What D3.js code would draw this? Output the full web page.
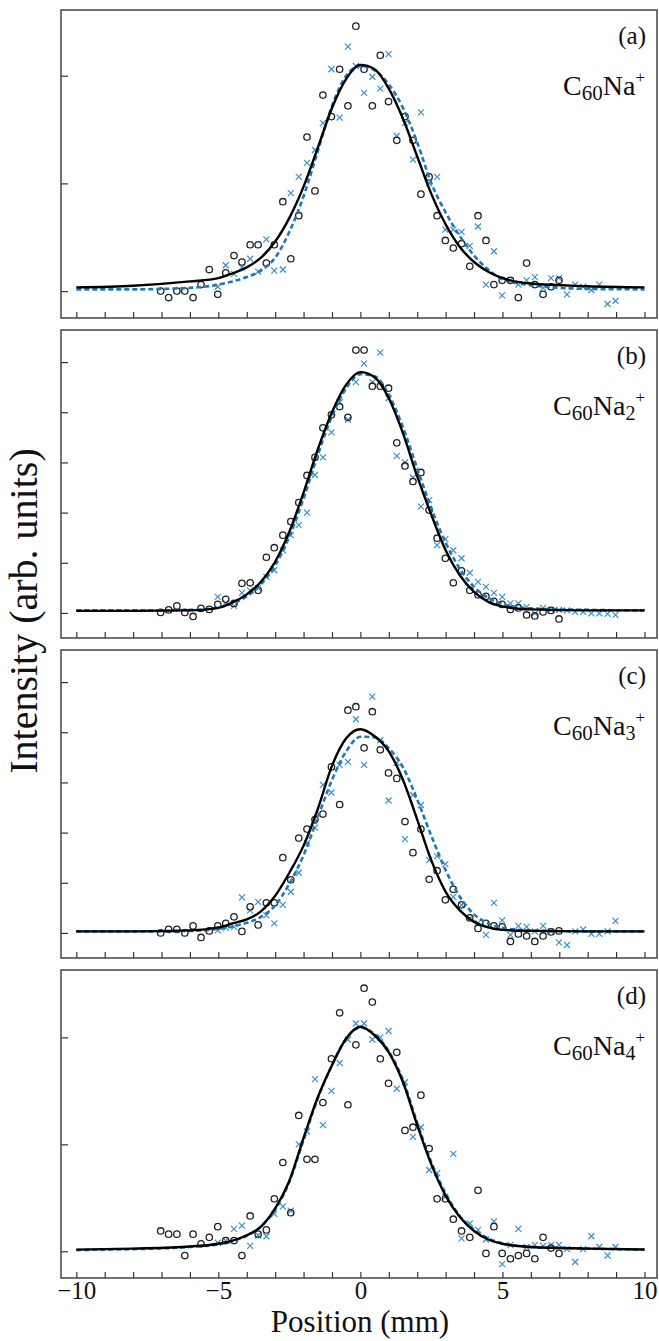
<!DOCTYPE html>
<html>
<head>
<meta charset="utf-8">
<script src="https://cdn.jsdelivr.net/npm/d3@7"></script>
<style>
body { margin: 0; background: #fff; }
svg { display: block; font-family: "Liberation Serif", "Times New Roman", serif; }
</style>
</head>
<body>
<svg width="659" height="1341"></svg>
<script>
// positions (mm) of the measured points, shared by all four panels
var xCirc = [-7.03,-6.75,-6.46,-6.18,-5.89,-5.61,-5.32,-5.02,-4.74,-4.45,-4.17,-3.88,-3.60,-3.31,-3.03,-2.73,-2.45,-2.17,-1.88,-1.60,
  -1.32,-1.02,-0.73,-0.44,-0.16,0.13,0.42,0.70,0.99,1.28,1.57,1.85,2.13,2.42,2.70,2.99,3.27,3.56,3.85,4.14,
  4.42,4.70,4.99,5.28,5.56,5.85,6.14,6.43,6.71,6.99];
var xCross = [-5.02,-4.74,-4.45,-4.17,-3.88,-3.60,-3.31,-3.03,-2.73,-2.45,-2.17,-1.88,-1.60,-1.32,-1.02,-0.73,-0.44,-0.16,0.13,0.42,
  0.70,0.99,1.28,1.57,1.85,2.13,2.42,2.70,2.99,3.27,3.56,3.85,4.14,4.42,4.70,4.99,5.28,5.56,5.85,6.14,
  6.43,6.71,6.99,7.27,7.56,7.84,8.13,8.41,8.70,8.98];
// positions of the fitted curves
var xFit = [-10,-8,-6,-5,-4.5,-4,-3.5,-3,-2.5,-2,-1.5,-1,-0.5,0,0.5,1,1.5,2,2.5,3,3.5,4,4.5,5,6,8,10];

// (a) C60Na+
var circA = [0.00,-0.06,0.00,0.00,-0.06,0.06,0.20,-0.03,0.17,0.33,0.27,0.43,0.43,0.26,0.43,0.83,0.30,0.70,1.43,0.93,
  1.82,1.62,2.06,1.72,2.46,2.06,1.72,2.19,1.76,1.40,1.62,1.40,0.90,1.06,0.70,0.47,0.40,0.44,0.23,0.70,
  0.47,0.06,0.10,0.10,-0.06,0.26,0.06,-0.03,0.04,0.10];
var crossA = [0.04,0.24,0.16,0.22,0.30,0.18,0.48,0.19,0.20,0.91,1.06,1.19,1.31,1.56,2.06,1.61,2.27,2.09,1.84,1.99,
  1.88,2.20,1.44,1.56,1.22,1.66,1.00,1.06,0.57,0.57,0.55,0.42,0.60,0.06,0.37,-0.04,0.10,0.06,0.10,0.13,
  0.03,0.12,0.12,-0.03,0.06,0.04,0.01,0.06,-0.12,-0.09];
var fitBlackA = [0.034,0.05,0.09,0.12,0.165,0.22,0.31,0.46,0.68,0.97,1.33,1.70,1.97,2.10,2.06,1.88,1.60,1.25,0.90,0.62,0.41,0.27,0.18,0.12,0.07,0.045,0.034];
var fitBlueA = [0.016,0.016,0.03,0.06,0.09,0.13,0.19,0.31,0.55,0.88,1.30,1.72,2.00,2.09,2.05,1.92,1.70,1.38,1.00,0.73,0.51,0.33,0.20,0.11,0.055,0.02,0.016];

// (b) C60Na2+
var circB = [0.01,0.06,0.14,0.01,-0.07,0.09,0.07,0.17,0.27,0.19,0.59,0.60,0.45,1.11,1.30,1.55,1.82,2.20,2.74,3.10,
  3.69,3.95,4.11,3.90,5.24,5.24,4.52,4.52,4.48,3.39,2.93,2.62,2.80,2.05,1.49,1.09,0.60,0.84,0.45,0.36,
  0.33,0.23,0.17,0.07,0.10,-0.04,-0.06,0.02,0.05,-0.12];
var crossB = [0.32,0.20,0.14,0.40,0.45,0.50,0.72,0.85,1.25,1.55,1.75,2.00,2.75,3.10,3.60,4.20,3.85,4.60,4.97,4.60,
  5.19,4.28,3.13,3.00,2.70,2.12,2.25,1.35,1.47,1.25,1.09,0.80,0.62,0.52,0.40,0.32,0.19,0.19,0.12,-0.01,
  0.10,0.06,0.06,0.05,0.02,0.02,-0.01,-0.01,-0.02,-0.04];
var fitBlackB = [0.04,0.04,0.05,0.10,0.21,0.37,0.62,1.02,1.62,2.40,3.26,4.00,4.55,4.80,4.70,4.28,3.58,2.72,1.95,1.25,0.75,0.42,0.22,0.13,0.07,0.05,0.05];
var fitBlueB = [0.05,0.05,0.06,0.11,0.19,0.33,0.57,0.95,1.52,2.28,3.15,3.92,4.48,4.76,4.72,4.35,3.70,2.88,2.08,1.40,0.88,0.52,0.30,0.18,0.09,0.06,0.05];

// (c) C60Na3+
var circC = [0.00,0.07,0.07,0.00,0.14,-0.09,0.04,0.14,0.19,0.32,0.03,0.52,0.16,0.60,0.60,1.50,1.06,1.89,2.07,2.26,
  2.37,3.31,2.56,4.44,4.51,3.69,4.41,3.65,3.19,3.08,2.22,1.60,2.07,1.07,1.24,0.66,0.87,0.56,0.30,0.09,
  0.19,0.14,0.12,-0.17,-0.02,-0.06,-0.17,-0.06,0.02,0.04];
var crossC = [0.05,0.10,0.12,0.71,0.45,0.62,0.35,0.19,0.56,0.82,1.20,1.79,2.10,2.95,2.80,3.35,3.41,4.26,3.35,4.71,
  3.84,2.64,3.39,1.87,2.75,2.55,1.45,1.53,1.37,0.72,0.56,0.29,0.20,-0.04,0.60,0.25,-0.04,0.14,0.12,0.03,
  0.14,0.03,-0.19,-0.24,0.03,0.07,-0.02,-0.02,0.03,0.24];
var fitBlackC = [0.03,0.03,0.05,0.11,0.19,0.27,0.43,0.74,1.20,1.74,2.47,3.33,3.88,4.06,3.92,3.62,3.05,2.26,1.44,0.82,0.45,0.22,0.11,0.06,0.04,0.03,0.03];
var fitBlueC = [0.03,0.03,0.04,0.08,0.13,0.20,0.32,0.55,0.98,1.55,2.30,3.05,3.62,3.91,3.90,3.68,3.30,2.66,1.93,1.25,0.72,0.37,0.19,0.10,0.05,0.03,0.03];

// (d) C60Na4+
var circD = [0.19,0.16,0.16,-0.04,0.16,0.07,0.13,0.23,0.10,0.10,-0.04,0.33,0.16,0.20,0.49,0.83,0.36,1.27,0.86,0.86,
  1.39,1.80,2.23,1.37,1.93,2.46,2.33,1.80,1.57,1.86,1.13,1.16,1.46,0.96,0.49,0.49,0.30,0.19,0.13,0.57,
  -0.02,0.23,-0.02,-0.07,-0.04,-0.02,-0.07,0.13,0.03,-0.02];
var crossD = [0.08,0.10,0.21,0.24,0.05,0.15,0.14,0.35,0.42,0.38,1.00,1.12,1.61,1.18,1.50,1.76,1.98,2.13,2.13,1.98,
  2.00,2.06,1.52,1.58,1.07,1.16,0.76,0.73,0.51,0.91,0.12,0.26,0.20,0.11,0.28,-0.12,0.06,0.21,0.04,0.06,
  0.05,0.06,0.06,0.02,-0.10,0.02,0.14,0.04,-0.04,0.04];
var fitBlackD = [0.015,0.025,0.045,0.07,0.10,0.15,0.23,0.40,0.66,1.06,1.44,1.74,1.99,2.10,2.02,1.86,1.58,1.18,0.81,0.52,0.32,0.19,0.11,0.07,0.04,0.025,0.016];
var fitBlueD = [0.012,0.02,0.04,0.065,0.095,0.145,0.23,0.39,0.65,1.04,1.43,1.74,1.99,2.09,2.03,1.87,1.60,1.20,0.83,0.54,0.33,0.20,0.12,0.075,0.04,0.025,0.016];

var panelIds = ["(a)", "(b)", "(c)", "(d)"];
var ionSub = ["", "2", "3", "4"];
var yDomains = [[-0.25, 2.61], [-0.5, 5.64], [-0.5, 5.64], [-0.25, 2.63]];
var yTicks = [[0, 1, 2], [0, 1, 2, 3, 4, 5], [0, 1, 2, 3, 4, 5], [0, 1, 2]];
var xTickLabels = [-10, -5, 0, 5, 10];

var circs = [circA, circB, circC, circD],
    crosses = [crossA, crossB, crossC, crossD],
    fitsBlack = [fitBlackA, fitBlackB, fitBlackC, fitBlackD],
    fitsBlue = [fitBlueA, fitBlueB, fitBlueC, fitBlueD];

var svg = d3.select("svg"),
    left = 61, right = 657,
    panelH = 308, gap = 12, top0 = 10;

var blue = "#3a8fcc", blueLine = "#1f78b4";

var x = d3.scaleLinear().domain([-10, 10]).range([76.3, 644.5]);

panelIds.forEach(function(id, p) {
  var top = top0 + p * (panelH + gap),
      bottom = top + panelH;

  var y = d3.scaleLinear().domain(yDomains[p]).range([bottom, top]);

  var g = svg.append("g").attr("class", "panel");

  g.append("clipPath").attr("id", "clip" + p)
    .append("rect").attr("x", left).attr("y", top).attr("width", right - left).attr("height", panelH);

  // ticks
  var xAxis = g.append("g")
    .attr("transform", "translate(0," + bottom + ")")
    .call(d3.axisBottom(x).ticks(20).tickSize(-6).tickPadding(3)
      .tickFormat(function(d) { return (p === 3 && xTickLabels.indexOf(d) >= 0) ? d3.format("d")(d) : ""; }));
  xAxis.select(".domain").remove();
  xAxis.selectAll("line").attr("stroke", "#333").attr("stroke-width", 1.2);
  xAxis.selectAll("text").attr("font-size", 25).attr("fill", "#111").attr("font-family", "Liberation Serif");

  var yAxis = g.append("g")
    .attr("transform", "translate(" + left + ",0)")
    .call(d3.axisLeft(y).tickValues(yTicks[p]).tickSize(-7).tickFormat(""));
  yAxis.select(".domain").remove();
  yAxis.selectAll("line").attr("stroke", "#333").attr("stroke-width", 1.2);

  var plot = g.append("g").attr("clip-path", "url(#clip" + p + ")");

  var line = d3.line()
    .x(function(d) { return x(d[0]); })
    .y(function(d) { return y(d[1]); })
    .curve(d3.curveMonotoneX);

  // crosses
  plot.selectAll(".cross")
    .data(xCross.map(function(v, i) { return [v, crosses[p][i]]; }))
    .enter().append("path")
    .attr("class", "cross")
    .attr("transform", function(d) { return "translate(" + x(d[0]) + "," + y(d[1]) + ")"; })
    .attr("d", "M-3,-3L3,3M-3,3L3,-3")
    .attr("stroke", blue)
    .attr("stroke-width", 1.2)
    .attr("fill", "none");

  // circles
  plot.selectAll(".circ")
    .data(xCirc.map(function(v, i) { return [v, circs[p][i]]; }))
    .enter().append("circle")
    .attr("class", "circ")
    .attr("cx", function(d) { return x(d[0]); })
    .attr("cy", function(d) { return y(d[1]); })
    .attr("r", 3.2)
    .attr("fill", "none")
    .attr("stroke", "#222")
    .attr("stroke-width", 1.3);

  // fitted curves
  plot.append("path")
    .datum(xFit.map(function(v, i) { return [v, fitsBlue[p][i]]; }))
    .attr("d", line)
    .attr("fill", "none")
    .attr("stroke", blueLine)
    .attr("stroke-width", 2.6)
    .attr("stroke-dasharray", "5,3");

  plot.append("path")
    .datum(xFit.map(function(v, i) { return [v, fitsBlack[p][i]]; }))
    .attr("d", line)
    .attr("fill", "none")
    .attr("stroke", "#000")
    .attr("stroke-width", 2.4);

  // frame
  g.append("rect")
    .attr("x", left).attr("y", top)
    .attr("width", right - left).attr("height", panelH)
    .attr("fill", "none")
    .attr("stroke", "#444")
    .attr("stroke-width", 1.5);

  // labels
  g.append("text")
    .attr("x", 646).attr("y", top + 34)
    .attr("text-anchor", "end")
    .attr("font-size", 25)
    .attr("fill", "#111")
    .text(id);

  var ion = g.append("text")
    .attr("x", 645).attr("y", top + 85)
    .attr("text-anchor", "end")
    .attr("font-size", 28)
    .attr("fill", "#111");
  ion.append("tspan").text("C");
  ion.append("tspan").attr("font-size", 21).attr("dy", 5).text("60");
  ion.append("tspan").attr("dy", -5).text("Na");
  if (ionSub[p]) {
    ion.append("tspan").attr("font-size", 20).attr("dy", 5).text(ionSub[p]);
    ion.append("tspan").attr("font-size", 17).attr("dy", -17).text("+");
  } else {
    ion.append("tspan").attr("font-size", 17).attr("dy", -12).text("+");
  }
});

// axis titles
svg.append("text")
  .attr("x", 360).attr("y", 1332)
  .attr("text-anchor", "middle")
  .attr("font-size", 31)
  .attr("fill", "#111")
  .text("Position (mm)");

svg.append("text")
  .attr("transform", "translate(37,611) rotate(-90)")
  .attr("text-anchor", "middle")
  .attr("font-size", 40)
  .attr("fill", "#111")
  .text("Intensity (arb. units)");
</script>
</body>
</html>
